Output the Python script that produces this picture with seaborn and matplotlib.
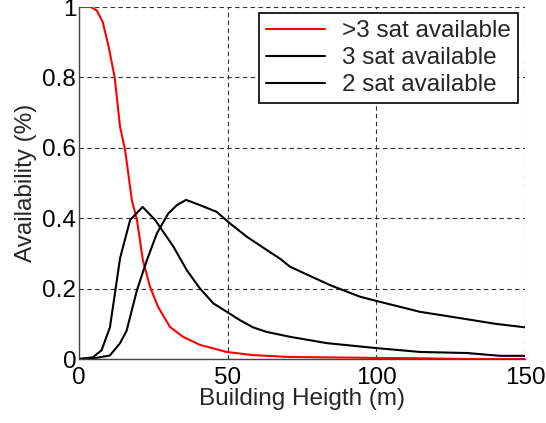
import numpy as np
import pandas as pd
import matplotlib
matplotlib.use("Agg")
import matplotlib.pyplot as plt
import seaborn as sns

# Availability vs. building height for each satellite-count condition
height_gt3 = [0, 4, 6, 8, 10, 12, 13.8, 15.5, 17.8, 19.5, 21.5, 23.9, 26.6, 30.6, 35, 40.7,
              49.7, 58.5, 70, 80, 100, 115, 130, 150]
avail_gt3 = [1.0, 1.0, 0.99, 0.957, 0.886, 0.80, 0.66, 0.594, 0.45, 0.395, 0.28, 0.205,
             0.148, 0.091, 0.063, 0.04, 0.02, 0.011, 0.006, 0.005, 0.003, 0.002, 0.0, 0.0]

height_3 = [0, 5, 10.4, 13.8, 16, 19.5, 22.8, 26.2, 30, 32.9, 36, 40.7, 46.3, 50.8, 56.5,
            63.1, 67.6, 71, 84.4, 94.5, 100, 114.7, 129, 140, 150]
avail_3 = [0.0, 0.002, 0.01, 0.045, 0.08, 0.196, 0.28, 0.357, 0.413, 0.437, 0.452, 0.437,
           0.418, 0.385, 0.347, 0.31, 0.285, 0.262, 0.21, 0.177, 0.165, 0.134, 0.115,
           0.1, 0.09]

height_2 = [0, 4.7, 7.6, 10.4, 12.1, 13.8, 17.2, 21.4, 25.6, 31.7, 36.2, 40.7, 45.2, 49.7,
            54.2, 58.5, 63.1, 71, 83.4, 100, 114.7, 130.5, 141.6, 150]
avail_2 = [0.0, 0.005, 0.025, 0.09, 0.187, 0.286, 0.395, 0.432, 0.395, 0.32, 0.253, 0.2,
           0.158, 0.134, 0.11, 0.09, 0.077, 0.063, 0.045, 0.031, 0.02, 0.017, 0.009, 0.009]

labels = [">3 sat available", "3 sat available", "2 sat available"]
x_ticks = [0, 50, 100, 150]
y_ticks = [0, 0.2, 0.4, 0.6, 0.8, 1]

frames = []
for lab, xs, ys in zip(labels, [height_gt3, height_3, height_2],
                       [avail_gt3, avail_3, avail_2]):
    frames.append(pd.DataFrame({"height": xs, "avail": ys, "series": lab}))
df = pd.concat(frames, ignore_index=True)

sns.set_style("white")
plt.rcParams["font.family"] = ["Liberation Sans", "DejaVu Sans"]

FS = 17.5
fig = plt.figure(figsize=(5.46, 4.23), dpi=100)
ax = fig.add_axes([79 / 546, 1 - 359 / 423, 446 / 546, 352 / 423])

palette = {labels[0]: "#ff0000", labels[1]: "#000000", labels[2]: "#000000"}
sns.lineplot(data=df, x="height", y="avail", hue="series", hue_order=labels,
             palette=palette, linewidth=1.5, ax=ax, sort=False, estimator=None)

ax.set_xlim(0, 150)
ax.set_ylim(0, 1)
ax.set_xticks(x_ticks)
ax.set_yticks(y_ticks)
ax.set_xticklabels([str(t) for t in x_ticks])
ax.set_yticklabels(["0", "0.2", "0.4", "0.6", "0.8", "1"])
ax.tick_params(axis="x", labelsize=FS, length=0, pad=6, colors="black")
ax.tick_params(axis="y", labelsize=FS, length=0, pad=2, colors="black")
ax.set_xlabel("Building Heigth (m)", fontsize=FS, labelpad=-1)
ax.set_ylabel("Availability (%)", fontsize=FS, labelpad=4)

ax.grid(True, linestyle=(0, (4, 3)), color="#333333", linewidth=0.8)
ax.set_axisbelow(True)
for side in ["top", "right"]:
    ax.spines[side].set_visible(False)
for side in ["left", "bottom"]:
    ax.spines[side].set_color("#444444")
    ax.spines[side].set_linewidth(1.0)

leg = ax.legend(loc="upper right", bbox_to_anchor=((518 - 79) / 446, (359 - 13) / 352),
                bbox_transform=ax.transAxes, fontsize=FS, frameon=True, fancybox=False,
                borderpad=0.3, labelspacing=0.2, handlelength=2.4, handletextpad=0.7,
                borderaxespad=0)
leg.get_frame().set_edgecolor("black")
leg.get_frame().set_linewidth(1.2)
leg.get_frame().set_alpha(1)
leg.set_title(None)

fig.savefig("out.png", dpi=100)
